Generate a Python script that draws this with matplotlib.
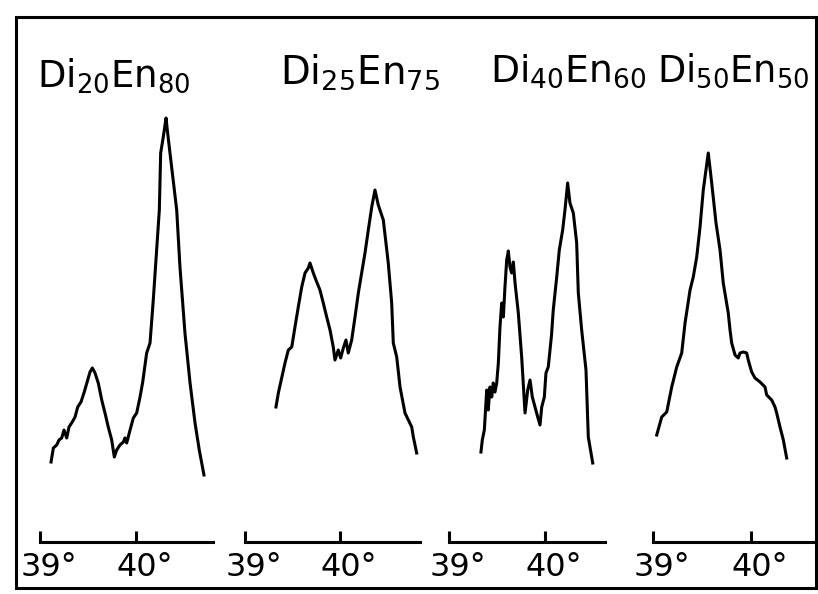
import matplotlib
matplotlib.use("Agg")
import matplotlib.pyplot as plt
from matplotlib.patches import Rectangle
from matplotlib.transforms import ScaledTranslation

# X-ray diffraction traces, 2-theta (deg) vs intensity (arbitrary units)
labels = [r"$\mathregular{Di_{20}En_{80}}$", r"$\mathregular{Di_{25}En_{75}}$",
          r"$\mathregular{Di_{40}En_{60}}$", r"$\mathregular{Di_{50}En_{50}}$"]

tt_20 = [39.115, 39.139, 39.174, 39.198, 39.226, 39.250, 39.278, 39.302, 39.336, 39.365,
         39.393, 39.427, 39.461, 39.497, 39.521, 39.545, 39.573, 39.607, 39.643, 39.677,
         39.711, 39.747, 39.774, 39.799, 39.833, 39.868, 39.885, 39.903, 39.938, 39.972,
         40.007, 40.042, 40.070, 40.111, 40.146, 40.180, 40.215, 40.243, 40.257, 40.284,
         40.313, 40.326, 40.354, 40.424, 40.458, 40.510, 40.563, 40.615, 40.659, 40.708]
int_20 = [80, 94, 97, 102, 104, 112, 104, 115, 120, 125,
          135, 140, 150, 162, 170, 174, 169, 159, 142, 129,
          115, 102, 85, 92, 97, 100, 104, 99, 112, 124,
          129, 145, 160, 189, 199, 242, 292, 332, 389, 405,
          424, 412, 389, 332, 275, 209, 159, 119, 92, 67]

tt_25 = [39.326, 39.351, 39.386, 39.421, 39.456, 39.492, 39.526, 39.561, 39.597, 39.632,
         39.666, 39.684, 39.719, 39.755, 39.789, 39.824, 39.860, 39.895, 39.929, 39.947,
         39.982, 40.007, 40.035, 40.063, 40.087, 40.123, 40.158, 40.193, 40.263, 40.298,
         40.334, 40.368, 40.403, 40.456, 40.508, 40.544, 40.561, 40.597, 40.632, 40.684,
         40.755, 40.772, 40.807]
int_25 = [135, 149, 164, 179, 192, 195, 215, 235, 255, 269,
          274, 279, 269, 260, 252, 239, 225, 212, 195, 182,
          192, 184, 194, 202, 189, 202, 225, 249, 289, 312,
          335, 352, 337, 322, 279, 239, 199, 185, 155, 129,
          115, 105, 89]

tt_40 = [39.333, 39.347, 39.368, 39.393, 39.409, 39.427, 39.445, 39.461, 39.479, 39.497,
         39.514, 39.531, 39.549, 39.566, 39.583, 39.601, 39.618, 39.635, 39.653, 39.670,
         39.688, 39.722, 39.757, 39.792, 39.820, 39.844, 39.868, 39.896, 39.924, 39.948,
         39.966, 39.993, 40.010, 40.034, 40.068, 40.086, 40.122, 40.149, 40.184, 40.208,
         40.236, 40.260, 40.295, 40.330, 40.347, 40.382, 40.427, 40.451, 40.497]
int_40 = [90, 102, 112, 152, 132, 155, 145, 159, 150, 159,
          179, 215, 239, 225, 255, 282, 291, 275, 269, 280,
          259, 229, 185, 129, 152, 162, 145, 135, 125, 117,
          135, 145, 169, 175, 207, 232, 265, 292, 312, 332,
          359, 339, 329, 299, 249, 212, 172, 105, 79]

tt_50 = [39.038, 39.089, 39.140, 39.191, 39.242, 39.293, 39.327, 39.378, 39.411, 39.446,
         39.480, 39.513, 39.564, 39.599, 39.643, 39.684, 39.717, 39.768, 39.786, 39.803,
         39.837, 39.870, 39.888, 39.921, 39.956, 39.972, 40.007, 40.041, 40.092, 40.143,
         40.160, 40.211, 40.245, 40.262, 40.296, 40.330, 40.364]
int_50 = [107, 125, 130, 155, 175, 189, 219, 252, 265, 285,
          315, 352, 389, 359, 319, 292, 259, 229, 212, 199,
          187, 184, 189, 190, 189, 182, 170, 164, 160, 155,
          147, 142, 135, 129, 115, 102, 84]

traces = [(tt_20, int_20), (tt_25, int_25), (tt_40, int_40), (tt_50, int_50)]
scale_end = [40.80, 40.84, 40.63, 40.67]
tick_deg = [39, 40]
tick_text = ["39°", "40°"]

# layout in pixels (figure 818 x 594)
W, H = 818, 594
x39_px = [40, 245, 449, 653]
px_per_deg = [96, 95, 96, 98]
label_px = [(37, 87), (280, 84), (490, 82), (657, 82)]
label_w = [153, 160, 156, 152]
base_px, top_px = 542, 100

plt.rcParams["font.family"] = ["DejaVu Sans"]
plt.rcParams["mathtext.fontset"] = "custom"
plt.rcParams["mathtext.rm"] = "DejaVu Sans"

fig = plt.figure(figsize=(W / 100, H / 100), dpi=100)
renderer = fig.canvas.get_renderer()
xlo, xhi = 38.7, 41.0

for i, (tt, inten) in enumerate(traces):
    s = px_per_deg[i]
    left = x39_px[i] - (39 - xlo) * s
    ax = fig.add_axes([left / W, (H - base_px) / H, (xhi - xlo) * s / W, (base_px - top_px) / H])
    ax.patch.set_visible(False)
    ax.plot(tt, inten, color="black", lw=2.2, solid_joinstyle="round")
    ax.set_xlim(xlo, xhi)
    ax.set_ylim(0, base_px - top_px)
    for side in ["top", "left", "right"]:
        ax.spines[side].set_visible(False)
    ax.spines["bottom"].set_bounds(39, scale_end[i])
    ax.spines["bottom"].set_linewidth(2.2)
    ax.set_yticks([])
    ax.set_xticks(tick_deg)
    ax.set_xticklabels(tick_text, fontsize=23)
    ax.tick_params(axis="x", direction="in", length=8, width=2.2, pad=7)
    for lab in ax.get_xticklabels():
        lab.set_transform(lab.get_transform() + ScaledTranslation(0.09, 0, fig.dpi_scale_trans))
    lx, ly = label_px[i]
    t = fig.text(lx / W, (H - ly) / H, labels[i], fontsize=30, ha="left", va="baseline")
    # shrink the heading so it spans the same width as in the scan
    w = t.get_window_extent(renderer).width
    t.set_fontsize(30 * label_w[i] / w)

fig.add_artist(Rectangle((16 / W, 6 / H), 800 / W, 571 / H, transform=fig.transFigure,
                         fill=False, lw=2.2, ec="black"))

fig.savefig("out.png", dpi=100)
